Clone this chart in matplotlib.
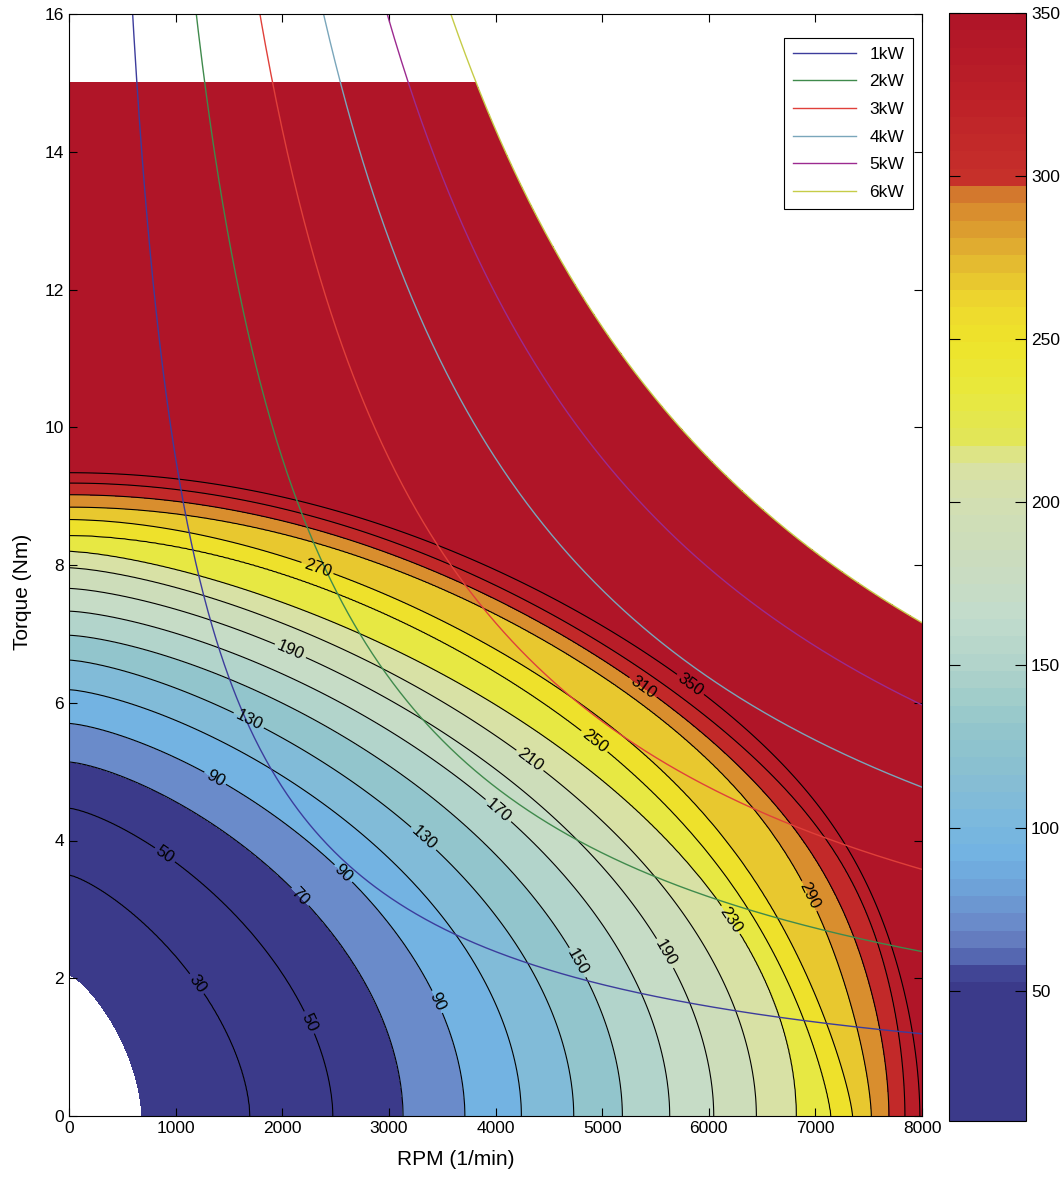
import numpy as np
import matplotlib
matplotlib.use("Agg")
import matplotlib.pyplot as plt
from matplotlib.colors import LinearSegmentedColormap, Normalize
from matplotlib.cm import ScalarMappable

plt.rcParams['font.family'] = ['Liberation Sans', 'DejaVu Sans']

# ---------------- data ----------------
levels = [10, 30, 50, 70, 90, 110, 130, 150, 170, 190, 210, 230, 250, 270, 290, 310, 330, 350]
# rpm where each contour meets T = 0
rpm_intercept = [681, 1697, 2475, 3133, 3713, 4243, 4734, 5190, 5634, 6047,
                 6447, 6822, 7150, 7350, 7525, 7690, 7840, 7980]
# torque where each contour meets rpm = 0
torque_intercept = [2.05, 3.50, 4.47, 5.14, 5.70, 6.19, 6.62, 6.98, 7.33, 7.66,
                    7.96, 8.20, 8.43, 8.66, 8.84, 9.02, 9.19, 9.34]
# rounded contours (low levels): exponents on the rpm side / torque side
shape_rpm = [1.30, 1.30, 1.35, 1.40, 1.40, 1.40, 1.40, 1.45, 1.45, 1.45,
             1.45, 1.45, 0, 0, 0, 0, 0, 0]
shape_torque = [1.70, 1.70, 1.80, 1.90, 1.90, 1.90, 1.90, 1.90, 1.90, 1.90,
                1.90, 1.95, 0, 0, 0, 0, 0, 0]
# cornered contours (high levels): sloping top, steep side, corner sharpness
top_coef = [0] * 12 + [0.655, 0.64, 0.62, 0.62, 0.62, 0.60]
top_exp = [0] * 12 + [1.8, 1.8, 2.0, 2.0, 2.0, 2.0]
side_coef = [0] * 12 + [0.33, 0.36, 0.32, 0.38, 0.36, 0.38]
side_exp = [0] * 12 + [1.3, 1.3, 1.5, 1.8, 1.9, 1.85]
corner = [0] * 12 + [12, 14, 18, 20, 20, 20]

# inline labels: level and the point (rpm, torque) where it sits
label_levels = [30, 50, 50, 70, 90, 90, 90, 130, 130, 150, 170, 190, 190, 210,
                230, 250, 270, 290, 310, 350]
label_points = [(1208, 1.93), (884, 3.76), (2244, 1.35), (2166, 3.18),
                (1369, 4.90), (2572, 3.52), (3431, 1.64), (1678, 5.72),
                (3369, 4.10), (4760, 2.22), (4087, 4.54), (2072, 6.74),
                (5588, 2.36), (4369, 5.26), (6181, 2.82), (4978, 5.55),
                (2306, 7.83), (6962, 3.21), (5366, 6.18), (5883, 6.38)]

power_kw = [1, 2, 3, 4, 5, 6]
power_labels = ['1kW', '2kW', '3kW', '4kW', '5kW', '6kW']
power_colors = ['#3c3c9c', '#3f8a4c', '#e0403a', '#7aa6bb', '#9c2a90', '#c6cc48']

torque_limit = 15.0
power_limit_kw = 6.0
rpm_limit = 8000

cbar_values = [10, 52, 55, 60, 65, 70, 80, 90, 100, 110, 120, 130, 140, 150, 165,
               180, 200, 212, 220, 235, 250, 262, 272, 282, 292, 299, 301, 325, 350]
cbar_colors = ['#3b3a8a', '#3b3a8a', '#4a57a6', '#5a6db5', '#6680c2', '#6b8dcb',
               '#6ea2d8', '#72b2e2', '#7ab8de', '#84bcd6', '#8bc1cf', '#93c6cb',
               '#a2cdca', '#b2d4cb', '#c2dccc', '#cadcc0', '#d2dfb2', '#dae2a2',
               '#e2e658', '#e8e83c', '#eee42a', '#eed82e', '#e6c230', '#dea630',
               '#d88a2e', '#d06a2c', '#c6302a', '#bd2128', '#b01528']

# ---------------- build field from contour geometry ----------------
n = np.linspace(0, rpm_limit, 801)
t = np.linspace(0, 16, 801)
N, T = np.meshgrid(n, t)

svals = []
for i in range(len(levels)):
    u = N / rpm_intercept[i]
    v = T / torque_intercept[i]
    if corner[i] == 0:
        s = u ** shape_rpm[i] + v ** shape_torque[i]
    else:
        A = v + top_coef[i] * u ** top_exp[i]
        B = u + side_coef[i] * v ** side_exp[i]
        r = corner[i]
        s = (A ** r + B ** r) ** (1.0 / r)
    svals.append(s)
g = np.log(np.array(svals) + 1e-9)
lv = np.array(levels, float)
k = (g > 0).sum(axis=0)
i0 = np.clip(k - 1, 0, len(levels) - 2)
g0 = np.take_along_axis(g, i0[None], 0)[0]
g1 = np.take_along_axis(g, (i0 + 1)[None], 0)[0]
den = np.where(np.abs(g0 - g1) < 1e-12, 1e-12, g0 - g1)
Z = lv[i0] + (lv[i0 + 1] - lv[i0]) * g0 / den
Z = np.clip(Z, -50, 500)
omega = 2 * np.pi * N / 60.0
Z[(T > torque_limit + 1e-9) | (T * omega > power_limit_kw * 1000)] = np.nan
Z = np.ma.masked_invalid(Z)

# ---------------- colours ----------------
vmin, vmax = 10, 350
norm = Normalize(vmin, vmax)
anchors = [((v - vmin) / (vmax - vmin), c) for v, c in zip(cbar_values, cbar_colors)]
cmap = LinearSegmentedColormap.from_list('mapc', anchors, N=64)
band_colors = [cmap(norm(L)) for L in levels]

# ---------------- figure ----------------
W, H = 1063, 1180
fig = plt.figure(figsize=(W / 100, H / 100), dpi=100)
ax = fig.add_axes([69 / W, 1 - 1116 / H, 853 / W, 1102 / H])

ax.contourf(N, T, Z, levels=levels + [1000], colors=band_colors)
unlabeled = [L for L in levels[1:] if L not in label_levels]
ax.contour(N, T, Z, levels=unlabeled, colors='k', linewidths=0.8)
for lvl in sorted(set(label_levels)):
    pts = [pt for L, pt in zip(label_levels, label_points) if L == lvl]
    cs = ax.contour(N, T, Z, levels=[lvl], colors='k', linewidths=0.8)
    ax.clabel(cs, manual=pts, inline=True, fontsize=12, fmt='%d', inline_spacing=3)

for P, lab, col in zip(power_kw, power_labels, power_colors):
    nn = np.linspace(300, rpm_limit, 600)
    tt = P * 1000.0 / (2 * np.pi * nn / 60.0)
    ax.plot(nn, tt, color=col, lw=1.0, label=lab)

ax.set_xlim(0, 8000)
ax.set_ylim(0, 16)
ax.set_xticks(range(0, 8001, 1000))
ax.set_yticks(range(0, 17, 2))
ax.tick_params(direction='in', top=True, right=True, length=6, labelsize=12.5, width=0.8)
for sp in ax.spines.values():
    sp.set_linewidth(0.8)
ax.set_xlabel('RPM (1/min)', fontsize=15)
ax.set_ylabel('Torque (Nm)', fontsize=15)
ax.xaxis.set_label_coords((456 - 69) / 853, -(1150 - 1116) / 1102)
ax.yaxis.set_label_coords(-(69 - 32) / 853, (1116 - 592) / 1102)

leg = ax.legend(loc='upper right', bbox_to_anchor=((913 - 69) / 853, 1 - (38 - 14) / 1102),
                borderaxespad=0, fancybox=False, edgecolor='black', fontsize=12.5,
                handlelength=3.6, labelspacing=0.72, framealpha=1, borderpad=0.5)
leg.get_frame().set_linewidth(0.8)

cax = fig.add_axes([949 / W, 1 - 1121 / H, 77 / W, 1108 / H])
cb = fig.colorbar(ScalarMappable(norm=norm, cmap=cmap), cax=cax, ticks=[50, 100, 150, 200, 250, 300, 350])
cax.tick_params(direction='in', left=True, right=True, length=8, labelsize=12.5, width=0.8)
cb.outline.set_linewidth(0.8)

fig.savefig('out.png', dpi=100)
